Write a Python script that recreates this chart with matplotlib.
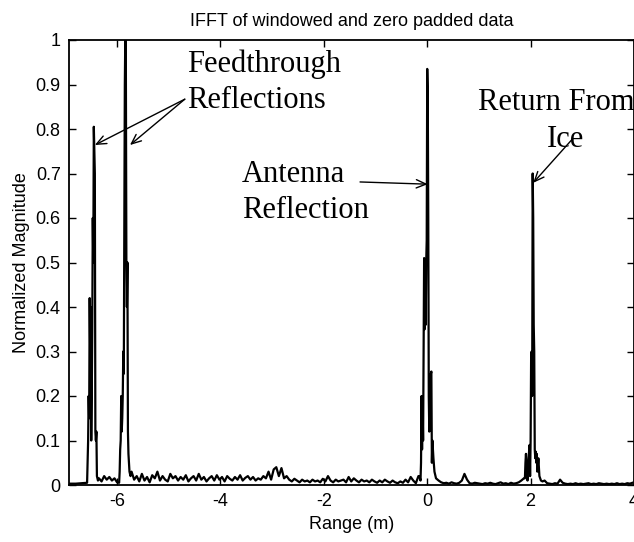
import numpy as np
import matplotlib.pyplot as plt

# --- data (range in m, normalized magnitude) ---
lead_x = [-6.93, -6.8, -6.7, -6.62]
lead_y = [0.003, 0.003, 0.004, 0.005]

feed1_x = [-6.58, -6.57, -6.56, -6.55, -6.54, -6.53, -6.52, -6.51, -6.5, -6.49, -6.48,
           -6.47, -6.46, -6.45, -6.44, -6.43, -6.42, -6.41, -6.40, -6.39, -6.37]
feed1_y = [0.005, 0.05, 0.1, 0.2, 0.15, 0.42, 0.3, 0.4, 0.1, 0.2, 0.35,
           0.6, 0.5, 0.805, 0.75, 0.7, 0.12, 0.1, 0.12, 0.02, 0.01]

gap_x = [-6.35, -6.3, -6.25, -6.2, -6.15, -6.1, -6.05, -6.0]
gap_y = [0.015, 0.008, 0.02, 0.012, 0.018, 0.01, 0.015, 0.006]

feed2_x = [-5.96, -5.95, -5.94, -5.93, -5.92, -5.91, -5.9, -5.89, -5.88, -5.87, -5.86,
           -5.85, -5.84, -5.83, -5.82, -5.81, -5.8, -5.79, -5.78, -5.77, -5.76, -5.74]
feed2_y = [0.005, 0.03, 0.08, 0.1, 0.2, 0.12, 0.15, 0.2, 0.3, 0.25, 0.6,
           0.9, 1.02, 0.95, 0.5, 0.4, 0.5, 0.12, 0.07, 0.05, 0.03, 0.02]

# noise floor from -5.72 to -0.17 m, 0.05 m apart
noise_a = [0.03, 0.012, 0.02, 0.008, 0.025, 0.01, 0.018, 0.006, 0.022, 0.015,
           0.03, 0.01, 0.02, 0.012, 0.008, 0.025, 0.015, 0.02, 0.01, 0.018,
           0.012, 0.022, 0.008, 0.015, 0.02, 0.01, 0.025, 0.012, 0.018, 0.008,
           0.015, 0.02, 0.01, 0.022, 0.012, 0.018, 0.008, 0.02, 0.014, 0.01,
           0.018, 0.012, 0.022, 0.01, 0.016, 0.02, 0.012, 0.018, 0.01, 0.015,
           0.012, 0.02, 0.015, 0.03, 0.012, 0.035, 0.04, 0.02, 0.038, 0.015,
           0.02, 0.012, 0.008, 0.014, 0.01, 0.006, 0.012, 0.008, 0.01, 0.006,
           0.012, 0.008, 0.01, 0.006, 0.014, 0.008, 0.02, 0.01, 0.006, 0.012,
           0.008, 0.01, 0.012, 0.006, 0.018, 0.008, 0.015, 0.01, 0.006, 0.012,
           0.008, 0.01, 0.006, 0.012, 0.008, 0.005, 0.01, 0.006, 0.012, 0.008,
           0.005, 0.01, 0.006, 0.004, 0.008, 0.005, 0.012, 0.006, 0.018, 0.01,
           0.004, 0.02]

ant_x = [-0.15, -0.13, -0.12, -0.11, -0.1, -0.09, -0.08, -0.07, -0.06, -0.05, -0.04,
         -0.03, -0.02, -0.01, 0.0, 0.01, 0.02, 0.03, 0.04, 0.05, 0.06, 0.07, 0.08,
         0.09, 0.1, 0.12, 0.14, 0.17]
ant_y = [0.02, 0.01, 0.05, 0.2, 0.08, 0.18, 0.1, 0.3, 0.51, 0.35, 0.45,
         0.36, 0.5, 0.55, 0.935, 0.88, 0.6, 0.2, 0.12, 0.24, 0.15, 0.25, 0.255,
         0.05, 0.1, 0.06, 0.03, 0.015]

# noise floor from 0.22 to 1.87 m
noise_b = [0.01, 0.006, 0.004, 0.005, 0.003, 0.006, 0.004, 0.003, 0.005, 0.01,
           0.025, 0.012, 0.004, 0.003, 0.005, 0.004, 0.003, 0.002, 0.004, 0.003,
           0.005, 0.003, 0.002, 0.004, 0.006, 0.003, 0.004, 0.002, 0.005, 0.003,
           0.004, 0.006, 0.01, 0.015]

ice_x = [1.89, 1.9, 1.91, 1.93, 1.94, 1.96, 1.98, 1.99, 2.0, 2.01, 2.02, 2.03, 2.04,
         2.05, 2.06, 2.07, 2.08, 2.09, 2.1, 2.11, 2.12, 2.13, 2.15, 2.17, 2.2, 2.23]
ice_y = [0.015, 0.05, 0.07, 0.02, 0.01, 0.06, 0.09, 0.02, 0.1, 0.29, 0.3, 0.2, 0.70,
         0.6, 0.36, 0.3, 0.08, 0.06, 0.075, 0.05, 0.07, 0.03, 0.06, 0.02, 0.01, 0.008]

# noise floor from 2.27 to 3.97 m
noise_c = [0.01, 0.004, 0.003, 0.002, 0.004, 0.003, 0.012, 0.005, 0.003, 0.002,
           0.003, 0.002, 0.004, 0.002, 0.003, 0.002, 0.003, 0.004, 0.002, 0.003,
           0.002, 0.004, 0.003, 0.002, 0.003, 0.002, 0.003, 0.002, 0.004, 0.002,
           0.003, 0.002, 0.004, 0.003, 0.005]

xticks = [-6, -4, -2, 0, 2, 4]
yticks = [0, 0.1, 0.2, 0.3, 0.4, 0.5, 0.6, 0.7, 0.8, 0.9, 1]

# stitch the trace together in range order
rng = np.concatenate([lead_x, feed1_x, gap_x, feed2_x,
                      np.linspace(-5.72, -0.17, len(noise_a)), ant_x,
                      np.linspace(0.22, 1.87, len(noise_b)), ice_x,
                      np.linspace(2.27, 3.97, len(noise_c))])
mag = np.concatenate([lead_y, feed1_y, gap_y, feed2_y, noise_a, ant_y,
                      noise_b, ice_y, noise_c])

plt.rcParams['font.family'] = ['Liberation Sans Narrow', 'Liberation Sans', 'DejaVu Sans']

fig = plt.figure(figsize=(6.34, 5.42), dpi=100)
ax = fig.add_axes([69/634, 1 - 485/542, 1 - 69/634, 445/542])

ax.plot(rng, mag, color='black', lw=1.6)

ax.set_xlim(-6.93, 3.96)
ax.set_ylim(0, 1)
ax.set_xticks(xticks)
ax.set_xticklabels([str(t) for t in xticks])
ax.set_yticks(yticks)
ax.set_yticklabels(['%g' % t for t in yticks])
ax.tick_params(direction='in', top=True, right=True, length=5, width=1,
               labelsize=13, pad=6)
for s in ax.spines.values():
    s.set_linewidth(1.3)

ax.set_title('IFFT of windowed and zero padded data', fontsize=13, pad=10)
ax.set_xlabel('Range (m)', fontsize=13, labelpad=4)
ax.set_ylabel('Normalized Magnitude', fontsize=13, labelpad=4)

# annotations
serif = dict(family='Liberation Serif', fontsize=22, va='baseline')
ax.text(-4.64, 0.928, 'Feedthrough', ha='left', **serif)
ax.text(-4.64, 0.847, 'Reflections', ha='left', **serif)
ax.text(-3.58, 0.681, 'Antenna', ha='left', **serif)
ax.text(-3.58, 0.600, 'Reflection', ha='left', **serif)
ax.text(0.99, 0.843, 'Return From', ha='left', clip_on=False, **serif)
ax.text(2.67, 0.760, 'Ice', ha='center', **serif)

arrow = dict(arrowstyle='->,head_length=0.7,head_width=0.3', color='black',
             lw=1.0, shrinkA=0, shrinkB=0)
ax.annotate('', xy=(-6.43, 0.764), xytext=(-4.69, 0.867), arrowprops=arrow)
ax.annotate('', xy=(-5.75, 0.764), xytext=(-4.69, 0.867), arrowprops=arrow)
ax.annotate('', xy=(0.01, 0.676), xytext=(-1.3, 0.681), arrowprops=arrow)
ax.annotate('', xy=(2.05, 0.679), xytext=(2.79, 0.775), arrowprops=arrow)

fig.savefig('out.png', dpi=100)
